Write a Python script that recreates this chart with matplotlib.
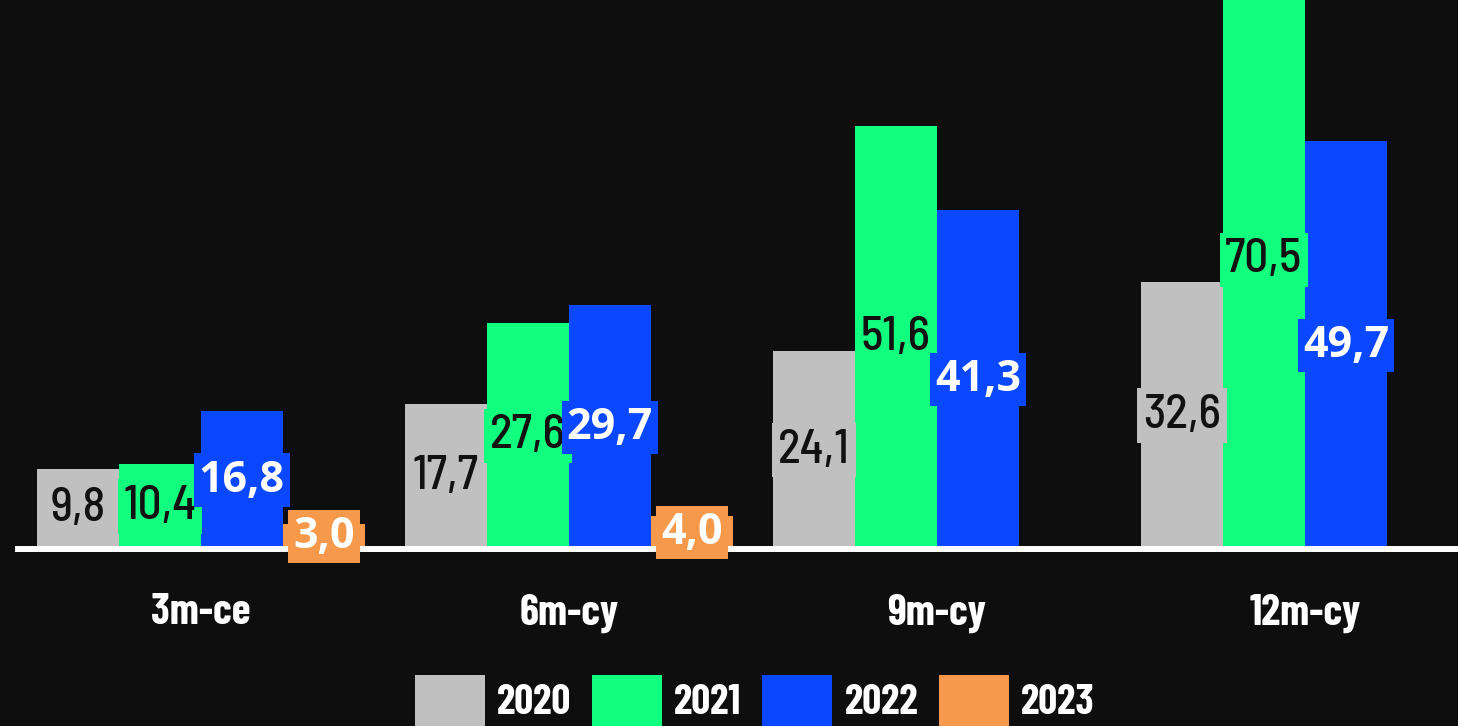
import numpy as np
import matplotlib
matplotlib.use("Agg")
import matplotlib.pyplot as plt

categories = ["3m-ce", "6m-cy", "9m-cy", "12m-cy"]
years = ["2020", "2021", "2022", "2023"]
v2020 = [9.8, 17.7, 24.1, 32.6]
v2021 = [10.4, 27.6, 51.6, 70.5]
v2022 = [16.8, 29.7, 41.3, 49.7]
v2023 = [3.0, 4.0, None, None]

colors = ["#c0c0c0", "#10ff7f", "#0a48ff", "#f7994a"]
label_colors = ["#111111", "#111111", "white", "white"]
label_fonts = [("Barlow Semi Condensed", 500, 34), ("Barlow Semi Condensed", 500, 34),
               ("Open Sans", "bold", 31), ("Open Sans", "bold", 31)]
COND = "Barlow Condensed"

BG = "#0e0e0e"
W, H = 1458, 726
fig = plt.figure(figsize=(W / 100, H / 100), dpi=100, facecolor=BG)
ax = fig.add_axes([18 / W, 177 / H, 1440 / W, 549 / H])
ax.set_facecolor(BG)

series = [v2020, v2021, v2022, v2023]
x = np.arange(len(categories))
bw = 82 / 368
for i, (vals, col) in enumerate(zip(series, colors)):
    xs = [xx + (i - 1.5) * bw for xx, v in zip(x, vals) if v is not None]
    ys = [v for v in vals if v is not None]
    ax.bar(xs, ys, width=bw, color=col, linewidth=0, zorder=1, label=years[i])

for i, (vals, col) in enumerate(zip(series, colors)):
    fam, wt, sz = label_fonts[i]
    for xx, v in zip(x, vals):
        if v is None:
            continue
        ax.text(xx + (i - 1.5) * bw, v / 2, f"{v:.1f}".replace(".", ","),
                ha="center", va="center", color=label_colors[i],
                fontfamily=fam, fontweight=wt, fontsize=sz, zorder=4 + i,
                bbox=dict(boxstyle="square,pad=0.12", facecolor=col, edgecolor="none"))

ax.set_xlim(-0.497, 3.416)
ax.set_ylim(0, 66.95)
for s in ["left", "right", "top"]:
    ax.spines[s].set_visible(False)
ax.spines["bottom"].set_color("white")
ax.spines["bottom"].set_linewidth(4.3)
ax.spines["bottom"].set_zorder(2.5)
ax.set_yticks([])
ax.set_xticks(x)
ax.set_xticklabels(categories, fontfamily=COND, fontweight="bold",
                   fontsize=31, color="white")
ax.tick_params(axis="x", length=0, pad=32)

handles, labels = ax.get_legend_handles_labels()
leg = fig.legend(handles, labels, loc="upper left", bbox_to_anchor=(415 / W, 1 - 675 / H),
                 ncol=4, frameon=False, borderpad=0, borderaxespad=0,
                 handlelength=1.68, handleheight=1.5, handletextpad=0.29,
                 columnspacing=0.5,
                 prop=dict(family=COND, weight="bold", size=30))
for t in leg.get_texts():
    t.set_color("white")

fig.savefig("out.png", dpi=100, facecolor=BG)
